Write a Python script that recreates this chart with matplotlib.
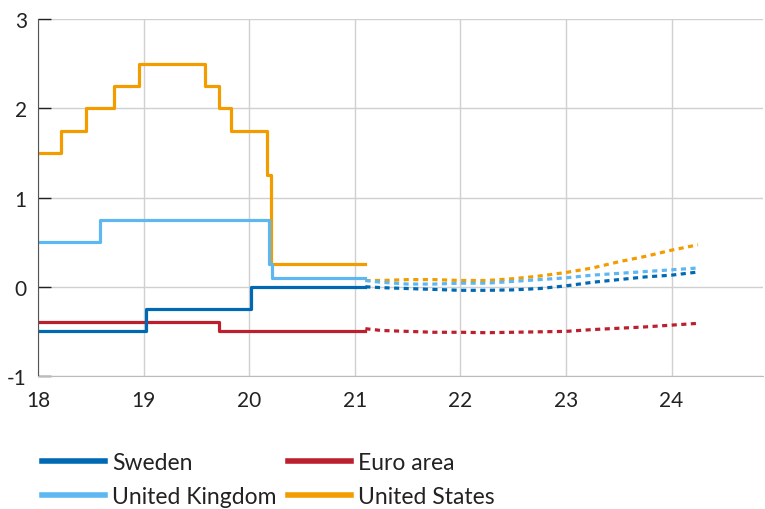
import numpy as np
import matplotlib
matplotlib.use("Agg")
import matplotlib.pyplot as plt

# outcome (policy rates, step series)
sweden_x = [18.0, 19.02, 20.02, 21.1]
sweden_y = [-0.5, -0.25, 0.0, 0.0]
euro_x = [18.0, 19.71, 21.1]
euro_y = [-0.4, -0.5, -0.5]
uk_x = [18.0, 18.59, 20.19, 20.22, 21.1]
uk_y = [0.5, 0.75, 0.25, 0.1, 0.1]
us_x = [18.0, 18.22, 18.45, 18.72, 18.96, 19.58, 19.71, 19.83, 20.17, 20.21, 21.1]
us_y = [1.5, 1.75, 2.0, 2.25, 2.5, 2.25, 2.0, 1.75, 1.25, 0.25, 0.25]

# forecasts (dotted)
fc_x = [21.1, 21.25, 21.5, 21.75, 22.0, 22.25, 22.5, 22.75, 23.0, 23.25, 23.5, 23.75, 24.0, 24.25]
sweden_fc = [0.0, -0.01, -0.02, -0.03, -0.04, -0.04, -0.035, -0.02, 0.01, 0.05, 0.08, 0.11, 0.13, 0.165]
uk_fc = [0.07, 0.05, 0.03, 0.03, 0.04, 0.04, 0.06, 0.08, 0.10, 0.13, 0.15, 0.17, 0.19, 0.21]
us_fc = [0.07, 0.07, 0.08, 0.08, 0.07, 0.07, 0.09, 0.12, 0.16, 0.21, 0.28, 0.34, 0.41, 0.47]
euro_fc = [-0.47, -0.49, -0.50, -0.51, -0.51, -0.515, -0.51, -0.505, -0.50, -0.48, -0.465, -0.45, -0.43, -0.41]

x_ticks = [18, 19, 20, 21, 22, 23, 24]
y_ticks = [-1, 0, 1, 2, 3]

c_swe = "#0069B4"
c_uk = "#5DB8F2"
c_euro = "#BC1F2D"
c_us = "#F39C00"

plt.rcParams['font.family'] = ['Lato', 'DejaVu Sans']

fig = plt.figure(figsize=(7.65, 5.1), dpi=100)
ax = fig.add_axes([38/765, 1-377/510, 1-38/765-0.002, (377-20)/510])

lw = 2.3
dots = (0, (1.6, 1.4))

ax.plot(euro_x, euro_y, drawstyle='steps-post', color=c_euro, lw=lw, label="Euro area")
ax.plot(sweden_x, sweden_y, drawstyle='steps-post', color=c_swe, lw=lw, label="Sweden")
ax.plot(us_x, us_y, drawstyle='steps-post', color=c_us, lw=lw, label="United States")
ax.plot(uk_x, uk_y, drawstyle='steps-post', color=c_uk, lw=lw, label="United Kingdom")

ax.plot(fc_x, euro_fc, color=c_euro, lw=lw, linestyle=dots)
ax.plot(fc_x, us_fc, color=c_us, lw=lw, linestyle=dots)
ax.plot(fc_x, uk_fc, color=c_uk, lw=lw, linestyle=dots)
ax.plot(fc_x, sweden_fc, color=c_swe, lw=lw, linestyle=dots)

ax.set_xlim(18, 24.87)
ax.set_ylim(-1, 3)
ax.set_xticks(x_ticks)
ax.set_yticks(y_ticks)
ax.set_xticklabels([str(t) for t in x_ticks])
ax.set_yticklabels([str(t) for t in y_ticks])

ax.grid(True, color="#D0D0D0", lw=1)
ax.set_axisbelow(True)
for s in ['top', 'right']:
    ax.spines[s].set_visible(False)
ax.spines['left'].set_color("#555555")
ax.spines['bottom'].set_color("#BBBBBB")
ax.tick_params(axis='y', direction='in', length=9, width=1, color="#222222",
               pad=8, labelsize=15, labelcolor="#222222")
ax.tick_params(axis='x', length=0, pad=10, labelsize=15, labelcolor="#222222")

handles, labels = ax.get_legend_handles_labels()
order = ["Sweden", "United Kingdom", "Euro area", "United States"]
hmap = dict(zip(labels, handles))
leg = fig.legend([hmap[k] for k in order], order, loc='upper left',
                 bbox_to_anchor=(42/765, 1-453/510), ncol=2, frameon=False,
                 fontsize=16.5, handlelength=2.75, handletextpad=0.3,
                 columnspacing=0.5, labelspacing=0.55, borderpad=0, borderaxespad=0)
for line in leg.get_lines():
    line.set_linewidth(4)
for t in leg.get_texts():
    t.set_color("#222222")

fig.savefig("out.png", dpi=100)
